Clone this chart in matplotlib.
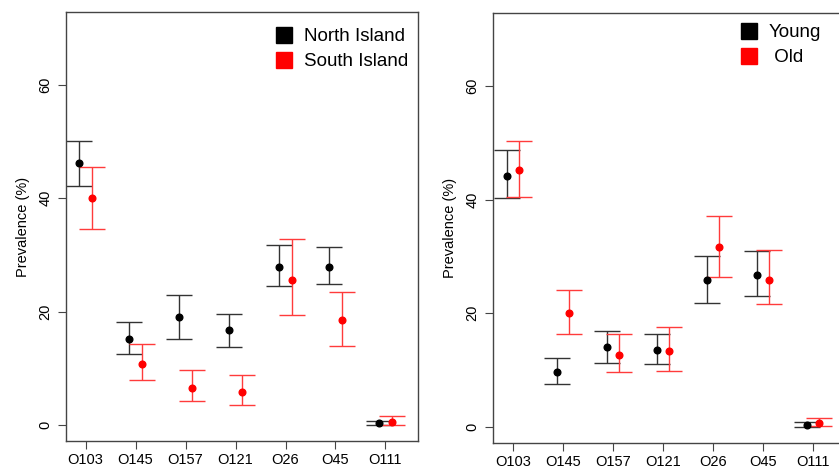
import matplotlib.pyplot as plt
from matplotlib.lines import Line2D

plt.rcParams['font.family'] = ['Liberation Sans', 'DejaVu Sans']

groups = ['O103', 'O145', 'O157', 'O121', 'O26', 'O45', 'O111']

# left panel: region
north = [46.2, 15.1, 19.1, 16.7, 27.9, 27.9, 0.3]
north_lo = [42.1, 12.6, 15.2, 13.7, 24.5, 24.8, 0.0]
north_hi = [50.1, 18.1, 22.9, 19.6, 31.8, 31.4, 0.8]
south = [40.1, 10.7, 6.6, 5.9, 25.5, 18.5, 0.6]
south_lo = [34.5, 7.9, 4.2, 3.5, 19.5, 14.0, 0.1]
south_hi = [45.5, 14.3, 9.7, 8.9, 32.8, 23.5, 1.6]

# right panel: age
young = [44.2, 9.6, 14.0, 13.6, 25.8, 26.7, 0.3]
young_lo = [40.2, 7.6, 11.3, 11.0, 21.8, 23.1, 0.0]
young_hi = [48.7, 12.2, 16.9, 16.4, 30.1, 30.9, 0.8]
old = [45.3, 20.0, 12.7, 13.3, 31.6, 25.8, 0.7]
old_lo = [40.5, 16.4, 9.7, 9.9, 26.4, 21.7, 0.2]
old_hi = [50.4, 24.1, 16.4, 17.5, 37.1, 31.2, 1.6]

fig = plt.figure(figsize=(8.39, 4.68), dpi=100)
ax1 = fig.add_axes([0.0787, 0.0577, 0.4195, 0.9163])
ax2 = fig.add_axes([0.588, 0.054, 0.4195, 0.9176])

x = list(range(1, len(groups) + 1))


def panel(ax, s1, lo1, hi1, s2, lo2, hi2, labels, anchor):
    for vals, lo, hi, col, ecol, off in [
        (s1, lo1, hi1, 'black', '#333333', -0.125),
        (s2, lo2, hi2, 'red', '#ff3b3b', 0.125),
    ]:
        xs = [i + off for i in x]
        err = [[v - l for v, l in zip(vals, lo)], [h - v for v, h in zip(vals, hi)]]
        ax.errorbar(xs, vals, yerr=err, fmt='o', color=col, ecolor=ecol,
                    elinewidth=1.0, capsize=9.7, capthick=1.0, markersize=4.8)
    ax.set_xlim(0.61, 7.65)
    ax.set_ylim(-2.8, 72.8)
    ax.set_xticks(x)
    ax.set_xticklabels(groups, fontsize=10.5)
    ax.set_yticks([0, 20, 40, 60])
    ax.set_yticklabels(['0', '20', '40', '60'], rotation=90, va='center', fontsize=10.5)
    ax.tick_params(length=6, color='#444444', pad=4)
    ax.tick_params(axis='x', pad=2.5)
    for sp in ax.spines.values():
        sp.set_color('#444444')
        sp.set_linewidth(1.0)
    ax.set_ylabel('Prevalence (%)', fontsize=10.5, labelpad=6)
    handles = [Line2D([], [], marker='s', linestyle='None', color='black', markersize=11.5),
               Line2D([], [], marker='s', linestyle='None', color='red', markersize=11.5)]
    ax.legend(handles, labels, loc='upper right', bbox_to_anchor=anchor,
              frameon=False, fontsize=13.5, handlelength=1.0,
              handletextpad=0.55, labelspacing=0.42, borderaxespad=0.45)


panel(ax1, north, north_lo, north_hi, south, south_lo, south_hi,
      ['North Island', 'South Island'], (1.017, 1.0))
panel(ax2, young, young_lo, young_hi, old, old_lo, old_hi,
      ['Young', ' Old'], (0.976, 1.012))

fig.savefig('out.png', dpi=100)
